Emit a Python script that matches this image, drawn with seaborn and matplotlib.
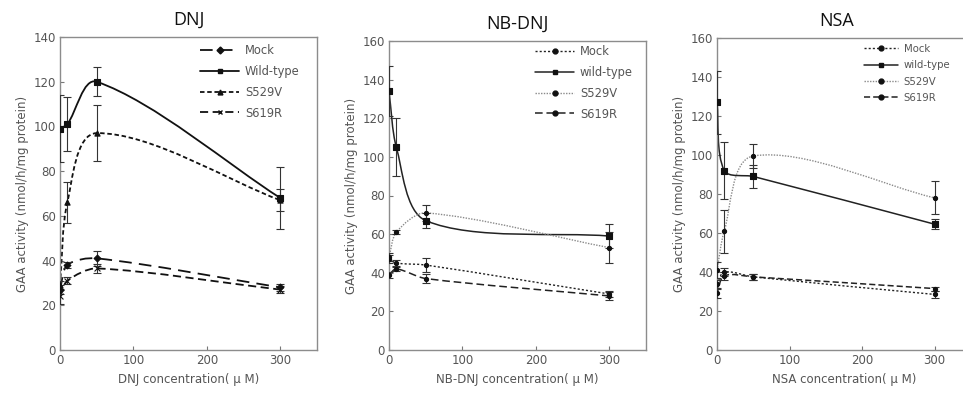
import numpy as np
import pandas as pd
import matplotlib
matplotlib.use("Agg")
import matplotlib.pyplot as plt
import seaborn as sns
from matplotlib.path import Path
from matplotlib.patches import PathPatch
from matplotlib.lines import Line2D

# concentrations (uM) used in every panel
conc = [0, 10, 50, 300]
series = ["Mock", "Wild-type", "S529V", "S619R"]

# DNJ panel
dnj_mock = [27, 38, 41, 28]
dnj_mock_err = [2, 1.5, 3.5, 1.5]
dnj_wt = [99, 101, 120, 68]
dnj_wt_err = [15, 12, 6.5, 14]
dnj_s529v = [29, 66, 97, 67]
dnj_s529v_err = [2, 9, 12.5, 5]
dnj_s619r = [24, 31, 36.5, 27]
dnj_s619r_err = [3.5, 1.5, 2, 1.5]

# NB-DNJ panel
nb_mock = [47, 45, 44, 29]
nb_mock_err = [2, 1.5, 3.5, 1.5]
nb_wt = [134, 105, 67, 59]
nb_wt_err = [13, 15, 4, 6]
nb_s529v = [48, 61, 71, 53]
nb_s529v_err = [2, 1, 4, 8]
nb_s619r = [39, 42, 37, 28]
nb_s619r_err = [1.5, 1, 2.5, 2]

# NSA panel
nsa_mock = [34, 40, 37.5, 28.5]
nsa_mock_err = [2, 2, 1.5, 2]
nsa_wt = [127, 92, 89, 64.5]
nsa_wt_err = [16, 14.5, 6, 2.5]
nsa_s529v = [41, 61, 99.5, 78]
nsa_s529v_err = [4, 11, 6, 8.5]
nsa_s619r = [29, 38, 37.5, 31.5]
nsa_s619r_err = [2.5, 2, 1.5, 1]

sns.set_theme(style="ticks")
plt.rcParams["font.family"] = ["DejaVu Sans"]

fig = plt.figure(figsize=(9.63, 3.95), dpi=100)
W, H = 963, 395


def add_ax(left, top, right, bottom):
    return fig.add_axes([left / W, 1 - bottom / H, (right - left) / W, (bottom - top) / H])


def smooth_path(ax, xs, ys, k=0.28):
    # excel-like smoothed line, built as bezier segments in pixel-ish space
    x0, x1 = ax.get_xlim()
    y0, y1 = ax.get_ylim()
    bb = ax.get_position()
    kx = bb.width * W / (x1 - x0)
    ky = bb.height * H / (y1 - y0)
    P = np.column_stack([np.asarray(xs, float) * kx, np.asarray(ys, float) * ky])
    n = len(P)
    verts = [P[0]]
    codes = [Path.MOVETO]
    for i in range(n - 1):
        pa = P[i - 1] if i > 0 else P[i]
        pd_ = P[i + 2] if i + 2 < n else P[i + 1]
        seg = np.linalg.norm(P[i + 1] - P[i])
        t1 = P[i + 1] - pa
        t1 = t1 / np.linalg.norm(t1)
        t2 = pd_ - P[i]
        t2 = t2 / np.linalg.norm(t2)
        verts += [P[i] + t1 * seg * k, P[i + 1] - t2 * seg * k, P[i + 1]]
        codes += [Path.CURVE4] * 3
    verts = np.array(verts) / [kx, ky]
    return Path(verts, codes)


panels = [
    dict(title="DNJ", ylim=140, pos=(60, 37, 317, 350), xlim=350,
         data=[(dnj_mock, dnj_mock_err), (dnj_wt, dnj_wt_err),
               (dnj_s529v, dnj_s529v_err), (dnj_s619r, dnj_s619r_err)],
         labels=["Mock", "Wild-type", "S529V", "S619R"],
         styles=[dict(ls=(0, (7, 4)), c="#111111", m="D", ms=12, lw=1.3),
                 dict(ls="-", c="#111111", m="s", ms=18, lw=1.3),
                 dict(ls=(0, (2.5, 1.5)), c="#111111", m="^", ms=14, lw=1.3),
                 dict(ls=(0, (4.5, 2.5)), c="#111111", m="x", ms=18, lw=1.3)],
         leg=(200, 44), legfs=8.3, legls=0.68),
    dict(title="NB-DNJ", ylim=160, pos=(389, 41, 646, 350), xlim=350,
         data=[(nb_mock, nb_mock_err), (nb_wt, nb_wt_err),
               (nb_s529v, nb_s529v_err), (nb_s619r, nb_s619r_err)],
         labels=["Mock", "wild-type", "S529V", "S619R"],
         styles=[dict(ls=(0, (1.5, 1.5)), c="#222222", m="o", ms=9, lw=1.0),
                 dict(ls="-", c="#222222", m="s", ms=14, lw=1.1),
                 dict(ls=(0, (1, 1)), c="#8a8a8a", m="o", ms=9, lw=1.0),
                 dict(ls=(0, (5, 2.5)), c="#222222", m="o", ms=9, lw=1.1)],
         leg=(535, 45), legfs=8.3, legls=0.68),
    dict(title="NSA", ylim=160, pos=(717, 38, 971, 350), xlim=350,
         data=[(nsa_mock, nsa_mock_err), (nsa_wt, nsa_wt_err),
               (nsa_s529v, nsa_s529v_err), (nsa_s619r, nsa_s619r_err)],
         labels=["Mock", "wild-type", "S529V", "S619R"],
         styles=[dict(ls=(0, (1.5, 1.5)), c="#222222", m="o", ms=9, lw=1.0),
                 dict(ls="-", c="#222222", m="s", ms=14, lw=1.1),
                 dict(ls=(0, (1, 1)), c="#8a8a8a", m="o", ms=9, lw=1.0),
                 dict(ls=(0, (4, 2)), c="#222222", m="o", ms=9, lw=1.1)],
         leg=(864, 44), legfs=7.3, legls=0.62),
]

for p in panels:
    ax = add_ax(*p["pos"])
    ax.set_xlim(0, p["xlim"])
    ax.set_ylim(0, p["ylim"])
    handles = []
    for (vals, err), lab, st in zip(p["data"], p["labels"], p["styles"]):
        ax.add_patch(PathPatch(smooth_path(ax, conc, vals), fill=False,
                               edgecolor=st["c"], lw=st["lw"], linestyle=st["ls"], zorder=2))
        ax.errorbar(conc, vals, yerr=err, fmt="none", ecolor="#333333",
                    elinewidth=0.8, capsize=3, capthick=0.8, zorder=3)
        df = pd.DataFrame({"conc": conc, "val": vals})
        sns.scatterplot(data=df, x="conc", y="val", ax=ax, marker=st["m"],
                        s=st["ms"], color="#111111", edgecolor="#111111",
                        linewidth=0.8, zorder=4, legend=False)
        handles.append(Line2D([], [], color=st["c"], ls=st["ls"], lw=st["lw"],
                              marker=st["m"], ms=3.5, mfc="#111111", mec="#111111",
                              label=lab))
    ax.set_xticks([0, 100, 200, 300])
    ax.set_yticks(np.arange(0, p["ylim"] + 1, 20))
    ax.tick_params(labelsize=8.5, labelcolor="#555555", color="#777777",
                   direction="in", length=3, width=0.8, pad=3)
    for s in ax.spines.values():
        s.set_color("#8c8c8c")
        s.set_linewidth(1.0)
    ax.set_xlabel(p["title"] + " concentration( μ M)", fontsize=8.5, color="#555555", labelpad=4)
    ax.set_ylabel("GAA activity (nmol/h/mg protein)", fontsize=8.5, color="#555555", labelpad=3)
    ax.set_title(p["title"], fontsize=13, family=["Open Sans", "DejaVu Sans"],
                 color="#111111", pad=9)
    lx, ly = p["leg"]
    ax.legend(handles=handles, loc="upper left", bbox_to_anchor=(lx / W, 1 - ly / H),
              bbox_transform=fig.transFigure, frameon=False, fontsize=p["legfs"],
              labelcolor="#555555", handlelength=3.4, handletextpad=0.5,
              labelspacing=p["legls"], borderpad=0, borderaxespad=0)

# the NSA panel title sits over its visible part, not the clipped axes centre
fig.axes[2].title.set_position((0.47, 1.0))

fig.savefig("out.png", dpi=100)
